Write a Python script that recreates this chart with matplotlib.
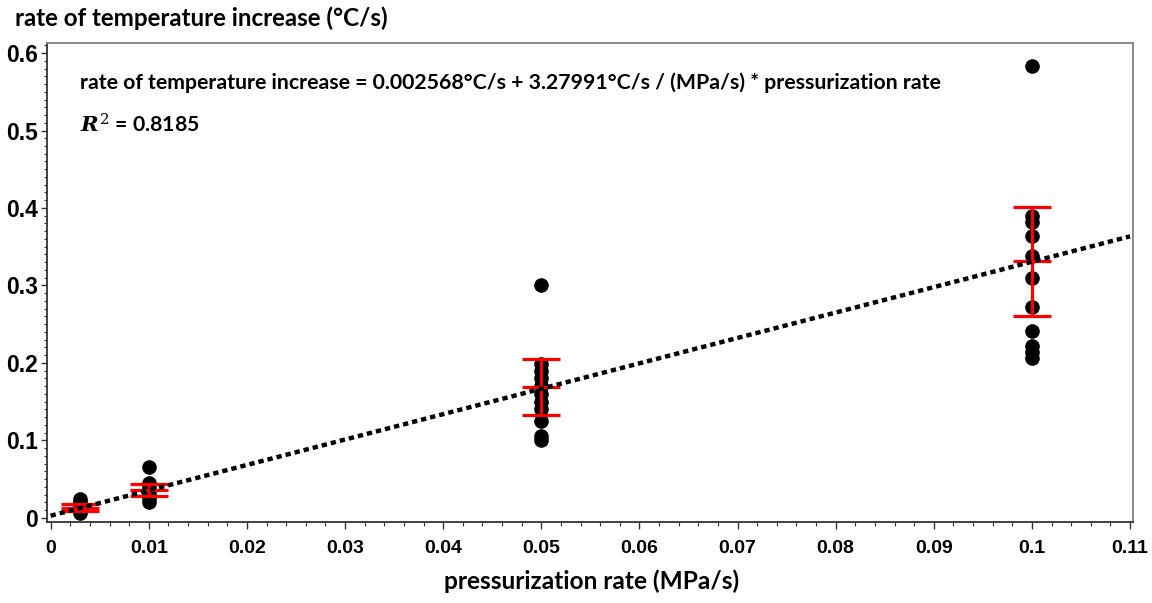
import matplotlib
matplotlib.use("Agg")
import matplotlib.pyplot as plt
import numpy as np
from matplotlib.ticker import MultipleLocator

# ---- data ----
x_low = [0.003] * 6
y_low = [0.024, 0.020, 0.016, 0.012, 0.009, 0.006]
x_001 = [0.01] * 7
y_001 = [0.065, 0.045, 0.040, 0.035, 0.030, 0.025, 0.020]
x_005 = [0.05] * 11
y_005 = [0.301, 0.198, 0.190, 0.180, 0.170, 0.160, 0.150, 0.140, 0.125, 0.105, 0.100]
x_010 = [0.1] * 11
y_010 = [0.583, 0.389, 0.382, 0.364, 0.338, 0.310, 0.272, 0.2415, 0.222, 0.214, 0.206]

group_x = [0.003, 0.01, 0.05, 0.1]
group_mean = [0.013, 0.036, 0.169, 0.331]
group_sd = [0.0045, 0.008, 0.036, 0.070]

intercept = 0.002568
slope = 3.27991
fit_x = [0.0, 0.11]

x_ticks = [0, 0.01, 0.02, 0.03, 0.04, 0.05, 0.06, 0.07, 0.08, 0.09, 0.1, 0.11]
x_ticklabels = ["0", "0.01", "0.02", "0.03", "0.04", "0.05", "0.06", "0.07", "0.08", "0.09", "0.1", "0.11"]
y_ticks = [0, 0.1, 0.2, 0.3, 0.4, 0.5, 0.6]
y_ticklabels = ["0", "0.1", "0.2", "0.3", "0.4", "0.5", "0.6"]

title_text = "rate of temperature increase (°C/s)"
xlabel_text = "pressurization rate (MPa/s)"
eq_text = "rate of temperature increase = 0.002568°C/s + 3.27991°C/s / (MPa/s) * pressurization rate"
r2_text = "$R^2$ = 0.8185"

# ---- figure ----
plt.rcParams['mathtext.fontset'] = 'custom'
plt.rcParams['mathtext.it'] = 'DejaVu Serif:italic:bold'
plt.rcParams['mathtext.rm'] = 'DejaVu Serif'
W, H = 1152, 603
fig = plt.figure(figsize=(W / 100, H / 100), dpi=100)
ax = fig.add_axes([46.7 / W, 1 - 522 / H, (1133 - 46.7) / W, (522 - 43) / H])

xs = x_low + x_001 + x_005 + x_010
ys = y_low + y_001 + y_005 + y_010
ax.plot(xs, ys, 'o', color='black', markersize=9.5, zorder=2)

ax.errorbar(group_x, group_mean, yerr=group_sd, fmt='_', color='#ff0000',
            markersize=27, mew=2.3, elinewidth=2.3, capsize=13.5, capthick=2.3, zorder=3)

fx = np.array(fit_x)
ax.plot(fx, intercept + slope * fx, color='black', linewidth=3.2,
        linestyle=(0, (1.2, 0.9)), zorder=4, dash_capstyle='butt')

ax.set_xlim(-0.0004, 0.1103)
ax.set_ylim(-0.0055, 0.613)

ax.set_xticks(x_ticks)
ax.set_xticklabels(x_ticklabels)
ax.set_yticks(y_ticks)
ax.set_yticklabels(y_ticklabels)
ax.xaxis.set_minor_locator(MultipleLocator(0.002))
ax.yaxis.set_minor_locator(MultipleLocator(0.01))

for lab in ax.get_xticklabels():
    lab.set_fontfamily(['Liberation Sans', 'DejaVu Sans'])
    lab.set_fontweight('bold')
    lab.set_fontsize(14)
for lab in ax.get_yticklabels():
    lab.set_fontfamily(['Liberation Sans', 'DejaVu Sans'])
    lab.set_fontweight('bold')
    lab.set_fontsize(16.5)

ax.tick_params(axis='x', which='major', direction='out', length=5, width=1.0, pad=8, colors='#333333', labelcolor='black')
ax.tick_params(axis='x', which='minor', direction='out', length=3, width=0.8, colors='#333333')
ax.tick_params(axis='y', which='major', direction='out', length=4.5, width=1.0, pad=2, colors='#333333', labelcolor='black')
ax.tick_params(axis='y', which='minor', direction='out', length=2.5, width=0.8, colors='#333333')

for s in ['left', 'bottom']:
    ax.spines[s].set_color('#333333')
    ax.spines[s].set_linewidth(1.3)
for s in ['top', 'right']:
    ax.spines[s].set_color('#808080')
    ax.spines[s].set_linewidth(1.3)

txt_font = ['Lato', 'DejaVu Sans']
fig.text(15 / W, 1 - 18 / H, title_text, ha='left', va='center', fontsize=17.4,
         family=txt_font, weight='bold')
fig.text(592 / W, 1 - 581 / H, xlabel_text, ha='center', va='center', fontsize=17.6,
         family=txt_font, weight='bold')
fig.text(80 / W, 1 - 83 / H, eq_text, ha='left', va='center', fontsize=15.3,
         family=txt_font, weight='bold')
fig.text(80 / W, 1 - 125 / H, r2_text, ha='left', va='center', fontsize=15.3,
         family=txt_font, weight='bold')

fig.savefig('out.png', dpi=100)
